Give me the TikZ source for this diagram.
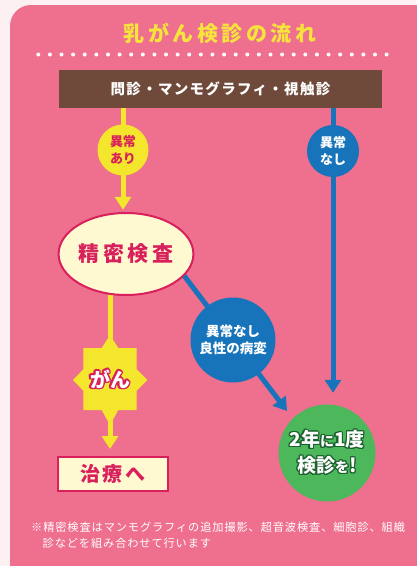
\documentclass[tikz,border=0pt]{standalone}
\usepackage{fontspec}
\usepackage[copies]{contour}
\usetikzlibrary{shapes.geometric,arrows.meta,calc}
\newfontfamily\jp{Noto Sans CJK JP}
\definecolor{outbg}{RGB}{252,240,243}
\definecolor{pinkbg}{RGB}{239,111,143}
\definecolor{ttlyel}{RGB}{246,228,60}
\definecolor{yel}{RGB}{244,230,44}
\definecolor{crim}{RGB}{216,32,92}
\definecolor{cream}{RGB}{255,249,210}
\definecolor{barbrown}{RGB}{111,74,58}
\definecolor{blu}{RGB}{24,116,186}
\definecolor{grn}{RGB}{77,184,91}
\definecolor{dkgrn}{RGB}{28,98,48}
\newcommand{\fs}[1]{\fontsize{#1pt}{#1pt}\selectfont}
\newcommand{\fsl}[2]{\fontsize{#1pt}{#2pt}\selectfont}
\contournumber{16}
\begin{document}
\begin{tikzpicture}[x=1pt,y=-1pt,font=\jp,
  yline/.style={draw=yel,line width=5pt,-{Triangle[width=16pt,length=13pt]}},
  bline/.style={draw=blu,line width=5pt,-{Triangle[width=16pt,length=13pt]}},
  tag/.style={circle,inner sep=0pt,align=center,font=\jp\bfseries\fsl{13}{17}},
  box/.style={draw=crim,fill=cream,line width=2pt,text=crim,inner sep=0pt},
  note/.style={anchor=west,text=white,inner sep=0pt,font=\jp\fs{11.2}\addfontfeature{LetterSpace=8}}]
\useasboundingbox (0,0) rectangle (416,566);
\fill[outbg] (0,0) rectangle (416,566);
\fill[pinkbg,rounded corners=21pt] (10,5) rectangle (460,600);
% title
\node[text=ttlyel,inner sep=0pt,font=\jp\bfseries\fs{21}\addfontfeature{LetterSpace=17}] (title) at (220,33) {乳がん検診の流れ};
\foreach \i in {0,...,30} \fill[white] (38.3+\i*11.61,54.5) circle (2pt);
% top bar
\node[fill=barbrown,minimum width=323pt,minimum height=38pt,inner sep=0pt,text=white,
  font=\jp\bfseries\fs{14.5}\addfontfeature{LetterSpace=9}] (bar) at (220.5,89) {問診・マンモグラフィ・視触診};
% node positions
\coordinate (ari) at (123,150);
\coordinate (nashi) at (333,151);
\coordinate (benign) at (233,340);
\coordinate (gan) at (110,380);
\coordinate (tipD) at (287,411);
\node[circle,fill=grn,minimum size=97pt,inner sep=0pt] (goal) at (327,453) {};
\node[box,minimum width=110pt,minimum height=34pt,font=\jp\bfseries\fs{20}\addfontfeature{LetterSpace=12}] (cure) at (113,474) {治療へ};
\path (126,254) node[ellipse,minimum width=132pt,minimum height=82pt,inner sep=0pt] (ellshape) {};
% connectors
\draw[yline,shorten >=3pt] (ari |- bar.south) -- (ari |- ellshape.north);
\draw[bline,shorten >=11.5pt] (nashi |- bar.south) -- (nashi |- goal.north);
\draw[yline,shorten >=7pt] (gan |- ellshape.south) -- (gan |- cure.north);
\draw[bline] ($(benign)!-1!(tipD)$) -- (tipD);
% nodes on top
\node[tag,fill=yel,text=crim,minimum size=51pt] (aritag) at (ari) {異常\\あり};
\node[tag,fill=blu,text=white,minimum size=52pt] (nashitag) at (nashi) {異常\\なし};
\node[tag,fill=blu,text=white,minimum size=85pt,font=\jp\bfseries\fsl{13.5}{17}] (benigntag) at (benign) {異常なし\\良性の病変};
\node[box,ellipse,minimum width=132pt,minimum height=82pt,font=\jp\bfseries\fs{21}\addfontfeature{LetterSpace=18}] (ell) at (ellshape) {精密検査};
% star
\fill[yel] (110,335) -- (118.3,348) -- (136.7,348) -- (136.7,369.3) -- (147.3,380) -- (136.7,390.7) -- (136.7,410) -- (118.3,410) -- (110,425) -- (101.7,410) -- (83.3,410) -- (83.3,390.7) -- (73,380) -- (83.3,369.3) -- (83.3,348) -- (101.7,348) -- cycle;
\contourlength{1.6pt}
\node[inner sep=0pt,text=white,font=\jp\bfseries\fs{20}] (gantext) at (gan) {\contour{crim}{がん}};
\contourlength{1.1pt}
\node[inner sep=0pt,text=white,align=center,font=\jp\bfseries\fsl{19}{26}] (goaltext) at (goal) {\contour{dkgrn}{2年{\fs{14}に}1度}\\\contour{dkgrn}{検診{\fs{14}を}!}};
% footnote
\node[note] (n1) at (31,527) {※精密検査はマンモグラフィの追加撮影、超音波検査、細胞診、組織};
\node[note] (n2) at (42.5,543) {診などを組み合わせて行います};
\end{tikzpicture}
\end{document}
